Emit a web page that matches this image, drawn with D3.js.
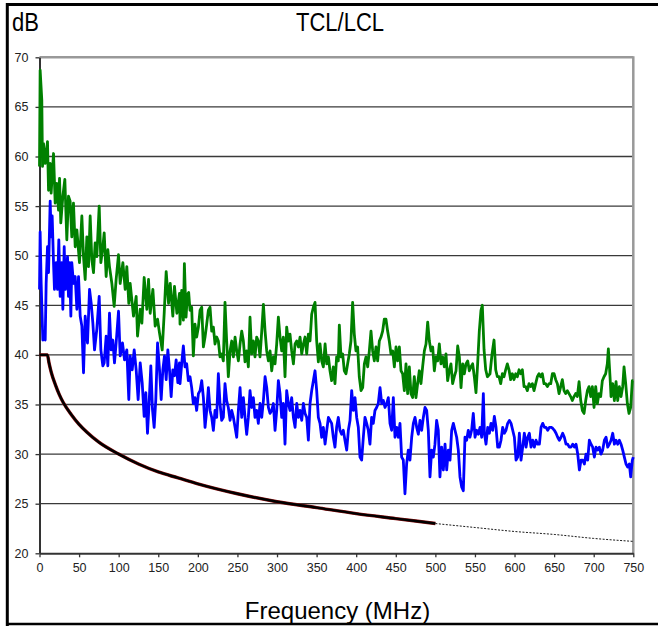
<!DOCTYPE html>
<html>
<head>
<meta charset="utf-8">
<script src="https://cdn.jsdelivr.net/npm/d3@7"></script>
<style>
  body { margin: 0; background: #fff; }
  text { font-family: "Liberation Sans", Arial, sans-serif; }
</style>
</head>
<body>
<div id="chart"></div>
<script>
// tick values
const yTicks = [20, 25, 30, 35, 40, 45, 50, 55, 60, 65, 70];
const xTicks = [0, 50, 100, 150, 200, 250, 300, 350, 400, 450, 500, 550, 600, 650, 700, 750];

// green trace [MHz, dB]
const greenTrace = [
  [0,59.0],[0.8,68.7],[2.9,65.7],[3.8,59.0],[5.1,61.3],[7.2,59.3],[10.1,61.5],[11.4,56.6],[13.5,59.3],[14.7,56.3],
  [17.7,60.3],[19.8,55.3],[21.9,57.3],[24,54.6],[25.3,57.8],[26.9,53.3],[29.5,56],[32,57.7],[34.5,51.6],[36.6,56],
  [38.7,55.5],[40.8,51.9],[42.9,55.3],[45.1,50.9],[47.2,52.6],[50.5,49.3],[53.5,54],[55.6,49.9],[57.7,47.6],[59.8,51.9],
  [61.9,48.9],[64,54],[66.1,49.6],[68.2,48.3],[70.3,51.3],[72.4,49.9],[75.4,55],[77.5,49.3],[80,50.9],[81.7,52.3],
  [84.2,47.9],[86.3,50.6],[88.4,48.9],[91.4,47.2],[94.3,44.9],[96.8,47.6],[99.8,50.1],[101.9,47.2],[105.3,49.3],[108.2,46.6],
  [110.3,48.9],[112.8,45.2],[114.5,47.2],[118.7,43.9],[122.1,45.9],[123.8,41.9],[127.2,44.6],[129.3,43.2],[132.2,47.8],[135.6,44.6],
  [137.7,47.6],[139.8,44.2],[143.2,46.6],[146.1,42.9],[149.1,43.6],[151.6,42.2],[155,40.5],[157.5,44.2],[160,48.4],[163,45.2],
  [165.1,47.2],[168.4,43.9],[170.5,46.9],[173.5,44.2],[176.8,46.2],
  [177.5,43.1],[179.6,46.5],[181.7,43.5],[183,49.2],[185.1,43.8],[186.8,46.1],[188.4,46.3],[190.1,44.5],[192.2,44.8],[194.3,39.9],
  [196.4,43.1],[198.5,41.8],[200.7,42.8],[202.8,44.5],[204.9,44.8],[207,40.8],[209.1,41.8],[211.2,43.1],[213.3,44.5],[215.4,44.8],
  [217.5,42.4],[219.6,42.8],[221.7,41.1],[223.8,41.8],[225.9,41.4],[228,39.8],[230.1,40.1],[232.2,39.4],[234.3,45.3],[236.4,41.4],
  [238.5,37.8],[240.7,40.4],[242.8,41.4],[244.9,39.8],[247,41.8],[249.1,40.4],[251.2,39.4],[253.3,41.1],[255.4,42.4],[257.5,41.4],
  [259.6,39.3],[261.7,40.4],[263.8,38.8],[265.9,43.8],[268,40.1],[270.1,41.4],[272.2,39.8],[274.3,41.8],[276.4,41.4],[278.5,39.8],
  [280.7,42.4],[282.8,45.1],[284.9,42.4],[287,40.4],[289.1,39.4],[291.2,40.4],[293.3,38.4],[295.4,39.8],[297.5,39.1],[299.6,41.1],
  [301.7,43.8],[303.8,41.8],[305.9,40.4],[308,41.8],[310.1,37.8],[312.2,42.8],[314.3,41.4],[316.4,42.1],[318.5,40.4],[320.7,39.1],
  [322.8,41.1],[324.9,41.4],[327,40.8],[329.1,41.8],[331.2,40.1],[333.3,41.1],[335.4,41.8],[337.5,40.1],[339.6,42.1],[341.7,41.4],
  [343.8,44.1],[345.9,44.8],[348,45.3],[350.1,41.4],[352.2,39.3],[354.3,41.1],[356.4,39.4],[358.5,38.8],[360.7,41.1],[362.8,39.1],
  [364.9,39.8],[366.9,38.4],[369,37.4],[371.1,38.8],[373.2,37.1],[375.3,39.8],[377.4,39.4],[378.7,43],[380.8,39.8],[382.9,40.1],
  [385,38.4],[387.1,38.1],[389.2,39.1],[391.3,40.1],[393.4,41.4],[395.5,45.3],[397.6,42.1],[399.7,40.4],[401.8,40.8],[403.9,37.8],
  [406.1,36.4],[408.2,36.7],[410.3,39.1],[412.4,39.8],[414.5,38.8],[416.6,40.4],[418.7,42.4],[420.8,40.4],[422.9,39.4],[425,40.8],
  [427.1,39.4],[429.2,41.4],[431.3,41.8],[433.4,42.4],[435.5,43.6],[437.6,43.6],[439.7,42.4],[441.8,41.4],[443.9,40.1],[446.1,40.4],
  [448.2,38.8],[450.3,40.8],[452.4,39.4],[454.5,40.8],[456.6,38.4],[458.7,38.1],[460.8,36.4],[462.9,39.1],[465,36.1],[467.1,38.8],
  [469.2,36.1],[471.3,35.7],[473.4,37.8],[475.5,35.7],[477.6,37.1],[479.7,38.4],[481.8,37.1],[483.9,38.8],[486.1,40.4],[488.2,41.1],
  [490.3,43.3],[492.4,41.4],[494.5,40.4],[496.6,40.8],[498.7,38.4],[500.8,39.8],[502.9,39.4],[505,41.1],[507.1,39.1],[509.2,39.8],
  [511.3,38.8],[513.4,40.1],[515.5,37.4],[517.6,38.4],[519.7,39.1],[521.8,37.1],[523.9,37.8],[526.1,38.4],[528.2,40.9],[530.3,39.8],
  [532.4,36.7],[534.5,39.1],[536.6,38.1],[538.7,39.1],[540.8,39.4],[542.9,38.4],[545,38.8],[547.1,39.1],[549.2,37.8],[551.3,36.2],
  [553.4,39.1],[555.5,42.4],[557.6,44.5],[559.3,45.0],[561.5,40.5],[563.6,38.5],[565.7,37.8],[569,38.1],[571.6,40.1],[574.1,41.5],
  [576.2,38.5],[578.3,37.8],[580.4,37.8],[582.5,37.1],[584.6,38.1],[586.7,37.8],[588.8,38.5],[590.9,39.1],[593,38.5],[595.1,37.5],
  [597.2,38.1],[599.3,37.5],[601.5,38.1],[603.6,37.8],[605.7,38.5],[607.8,38.1],[609.9,38.5],[612,36.8],[614.1,36.8],[616.2,36.4],
  [618.3,37.1],[620.4,36.8],[622.5,37.1],[624.6,36.4],[626.7,37.1],[628.8,37.8],[630.9,38.1],[633,37.8],[635.1,38.1],[637.2,37.1],
  [639.3,37.1],[641.5,36.8],[643.6,37.1],[645.7,37.1],[647.8,38.1],[649.9,38.1],[652,37.5],[654.1,37.1],[656.2,36.1],[658.3,36.8],
  [660.4,37.5],[662.5,36.4],[664.6,36.1],[666.7,36.4],[668.8,36.1],[670.9,35.8],[673,35.4],[675.1,35.8],[677.2,36.1],[679.3,35.8],
  [681.5,37.3],[683.6,35.4],[685.7,34.4],[687.8,34.1],[689.9,35.4],[692,36.4],[694.1,36.8],[696.2,35.8],[698.3,36.8],[700.4,34.7],
  [702.5,36.8],[704.6,35.1],[706.7,36.1],[708.8,35.8],[710.9,37.4],[713,37.8],[715.1,38.1],[717.2,39.1],[718.5,40.6],[720.6,37.8],
  [721.9,35.8],[724,37.1],[726.1,35.4],[728.2,37.3],[730.3,35.4],[732.4,36.8],[734.5,35.8],[736.6,36.8],[738.3,38.8],[740.4,37.1],
  [742.5,35.1],[744.6,34.1],[746.7,34.7],[748.8,37.4],[750,37.4]
];

// blue trace [MHz, dB]
const blueTrace = [
  [0,46.6],[0.8,52.4],[2.1,47.2],[4.2,41.5],[5.9,41.9],[7.2,41.5],[8.4,47.2],[10.1,50.9],[11.4,48.3],[13.5,55.5],
  [14.7,51.9],[16,54],[17.7,49.3],[18.9,46.6],[21.1,49.3],[22.7,46.6],[24.4,51.6],[26.1,45.9],[28.2,49.3],[29.5,44.6],
  [31.2,50.9],[32.8,46.6],[35.4,49.9],[36.6,45.9],[37.9,49.3],[39.6,43.9],[40.8,49.3],[42.9,47.2],[45.1,47.9],[47.2,44.6],
  [49.3,47.9],[51.4,43.9],[53.5,42.9],[55.6,38.2],[57.7,43.9],[60.6,41.2],[63.2,46.6],[65.3,45.2],[67.4,43.2],[69.5,40.5],
  [72.4,42.6],[75.4,45.9],[77.5,40.5],[80,38.9],[81.7,39.2],[84.2,41.9],[86.3,38.9],[88.4,44.2],[90.5,40.5],[92.6,41.5],
  [94.7,39.2],[96.8,41.2],[99.8,44.4],[101.9,39.9],[104.8,41.2],[107.4,39.5],[110.3,40.5],[112.8,35.5],[114.5,39.9],[117.1,38.5],
  [119.6,40.5],[122.1,38.5],[124.6,35.5],[127.2,39.2],[129.7,37.2],[132.2,33.8],[134.3,36.2],[136.4,32.1],[138.5,35.2],[140.6,38.9],
  [142.7,34.5],[144.8,32.7],[146.9,35.5],[149.1,41.2],[151.6,38.5],[153.7,35.5],[155.8,38.5],[157.9,39.9],[160,37.5],[162.1,40.5],
  [164.2,38.5],[166.3,35.8],[168.4,38.5],[170.5,37.9],[172.6,39.5],[174.7,37.2],[176.8,39.2],
  [177.5,37.1],[179.6,39.1],[181.7,40.9],[183.8,38.8],[185.9,39.1],[188,37.4],[190.1,37.8],[192.2,36.7],[194.3,35.1],[196.4,35.7],
  [198.5,34.4],[200.7,36.1],[202.8,36.4],[204.9,37.4],[207,35.7],[209.1,32.7],[211.2,34.4],[213.3,36.7],[215.4,34.4],[217.5,33.7],
  [219.6,32.4],[221.7,34.4],[223.8,33.7],[225.9,38.1],[228,35.1],[230.1,33.4],[232.2,33.7],[234.3,37.1],[236.4,35.4],[238.5,34.7],
  [240.7,33.4],[242.8,34.4],[244.9,33.7],[247,32.7],[249.1,31.7],[251.2,34.4],[253.3,36.7],[255.4,33.7],[257.5,35.7],[259.6,33.7],
  [261.7,32.0],[263.8,33.7],[265.9,36.4],[268,34.7],[270.1,35.7],[272.2,33.7],[274.3,34.4],[276.4,33.1],[278.5,35.1],[280.7,33.7],
  [282.8,35.4],[284.9,37.8],[287,36.7],[289.1,34.7],[291.2,34.1],[293.3,34.4],[295.4,35.1],[297.5,32.4],[299.6,34.4],[301.7,37.4],
  [303.8,36.1],[305.9,33.7],[308,35.1],[310.1,31.0],[312.2,36.4],[314.3,35.1],[316.4,34.4],[318.5,35.7],[320.7,33.7],[322.8,32.7],
  [324.9,35.1],[327,33.7],[329.1,34.4],[331.2,33.4],[333.3,35.1],[335.4,34.1],[337.5,33.7],[339.6,31.4],[341.7,35.1],[343.8,36.4],
  [345.9,37.4],[348,38.4],[350.1,36.4],[352.2,33.7],[354.3,33.1],[356.4,31.7],[358.5,32.7],[360.7,31.0],[362.8,32.4],[364.9,33.7],
  [366.9,33.4],[369,33.1],[371.1,31.7],[373.2,30.7],[375.3,32.7],[377.4,33.7],[379.5,32.4],[381.6,32.0],[383.7,32.4],[385.8,31.4],
  [388,30.4],[390.1,32.4],[392.2,33.4],[394.3,36.4],[396.4,34.4],[398.5,35.7],[400.6,33.7],[402.7,32.7],[404.8,29.7],[406.9,29.4],
  [409,31.7],[411.1,33.7],[413.2,33.1],[415.3,32.4],[417.4,31.0],[419.5,33.7],[421.6,33.1],[423.7,34.4],[425.8,34.7],[427.9,35.1],
  [430.1,36.7],[432.2,35.1],[434.3,35.4],[436.4,34.7],[438.5,35.1],[440.6,35.7],[442.7,33.1],[444.8,32.4],[446.9,35.7],[449,31.7],
  [451.1,32.7],[453.2,31.7],[455.3,33.1],[457.4,29.7],[459.5,29.4],[461.6,26.0],[463.7,29.0],[465.8,30.4],[467.9,29.4],[470.1,31.7],
  [472.2,33.1],[474.3,33.7],[476.4,32.7],[478.5,32.0],[480.6,33.4],[482.7,32.4],[484.8,33.7],[486.9,34.7],[489,34.4],[491.1,32.4],
  [493.2,27.7],[495.3,30.4],[497.4,29.7],[499.5,31.0],[501.6,33.4],[503.7,32.4],[505.8,27.7],[507.9,30.7],[510.1,28.4],[512.2,31.0],
  [514.3,28.4],[516.4,30.4],[518.5,29.4],[520.6,32.4],[522.7,33.1],[524.8,32.4],[526.9,31.7],[529,30.4],[531.1,27.7],[533.2,26.7],
  [535.3,26.3],[537.4,31.7],[539.5,31.4],[541.6,32.4],[543.7,31.7],[545.8,32.4],[547.9,34.1],[550.1,31.7],[552.2,32.4],[554.3,32.0],
  [556.4,32.7],[558.5,31.7],[560.6,36.1],[561.9,32.1],[564,31.0],[566.1,32.7],[568.2,32.1],[570.3,33.1],[572.4,32.4],[574.5,33.8],
  [576.6,32.7],[578.7,30.7],[580.8,30.7],[582.9,31.4],[585,32.7],[587.1,32.1],[589.2,32.4],[591.3,33.1],[593.5,33.4],[595.6,33.1],
  [597.7,32.4],[599.8,31.7],[601.9,29.4],[604,29.7],[606.1,32.1],[608.2,29.4],[610.3,30.7],[612.4,32.1],[614.5,30.7],[616.6,31.7],
  [618.7,32.1],[620.8,30.7],[622.9,31.4],[625,30.7],[627.1,31.4],[629.2,31.0],[631.4,31.0],[633.5,32.7],[635.6,33.1],[637.7,32.7],
  [639.8,32.7],[641.9,32.4],[644,32.7],[646.1,32.7],[648.2,32.6],[650.3,32.4],[652.4,32.1],[654.5,31.7],[656.6,31.4],[658.7,31.7],
  [660.8,32.1],[662.9,31.7],[665,31.0],[667.1,31.0],[669.2,30.7],[671.3,30.7],[673.5,31.0],[675.6,30.7],[677.7,31.0],[679.8,30.0],
  [681.9,28.4],[684,29.4],[686.1,29.4],[688.2,29.0],[690.3,30.0],[692.4,29.4],[694.5,31.4],[696.6,31.0],[698.7,30.7],[700.8,29.7],
  [702.9,30.7],[705,30.4],[707.1,30.7],[709.2,30.0],[711.3,30.4],[713.5,31.4],[715.6,31.7],[717.7,30.7],[719.8,31.0],[721.9,31.4],
  [724,32.1],[726.1,31.0],[728.2,31.4],[730.3,31.0],[732.4,31.4],[734.5,31.0],[736.6,30.4],[738.7,29.7],[740.8,29.0],[742.9,28.7],
  [745,29.0],[746.7,27.7],[748.8,29.4],[750,29.7]
];

// limit line, solid part and dotted extension [MHz, dB]
const limitSolid = [
  [0,40],[10,40],[12,39.2],[15,38.2],[20,37],[25,36],[30,35.2],[40,34],[50,33],[60,32.2],[75,31.2],
  [100,30],[125,29],[150,28.2],[175,27.6],[200,27],[250,26],[300,25.2],[350,24.6],[400,24],[450,23.5],[500,23]
];
const limitDotted = [[500,23],[550,22.6],[600,22.2],[650,21.9],[700,21.5],[750,21.2]];

const W = 658, H = 626;
const plot = { left: 39.5, right: 633.3, top: 57.3, bottom: 553.3 };

const svg = d3.select('#chart').append('svg')
  .attr('width', W).attr('height', H);

const x = d3.scaleLinear().domain([0, 750]).range([plot.left, plot.right]);
const y = d3.scaleLinear().domain([20, 70]).range([plot.bottom, plot.top]);

// horizontal grid
svg.append('g').selectAll('line')
  .data(yTicks.filter(d => d > 20))
  .enter().append('line')
  .attr('x1', plot.left).attr('x2', plot.right)
  .attr('y1', d => y(d)).attr('y2', d => y(d))
  .attr('stroke', d => d === 70 ? '#999' : '#3a3a3a')
  .attr('stroke-width', d => d === 70 ? 2.5 : 1.3);

// right border of plot
svg.append('line')
  .attr('x1', plot.right).attr('x2', plot.right)
  .attr('y1', plot.top - 1).attr('y2', plot.bottom)
  .attr('stroke', '#999').attr('stroke-width', 2.5);

// axes
const yAxis = d3.axisLeft(y).tickValues(yTicks).tickSize(4).tickPadding(7).tickSizeOuter(0);
const xAxis = d3.axisBottom(x).tickValues(xTicks).tickSize(4).tickPadding(6).tickSizeOuter(0);

const gy = svg.append('g').attr('transform', 'translate(' + plot.left + ',0)').call(yAxis);
const gx = svg.append('g').attr('transform', 'translate(0,' + plot.bottom + ')').call(xAxis);

[gy, gx].forEach(function (g) {
  g.select('.domain').attr('stroke', '#333').attr('stroke-width', 2);
  g.selectAll('.tick line').attr('stroke', '#333').attr('stroke-width', 1.3);
  g.selectAll('.tick text')
    .attr('fill', '#222')
    .style('font-family', '"Liberation Sans", Arial, sans-serif')
    .style('font-size', '12.5px');
});

const line = d3.line().x(d => x(d[0])).y(d => y(d[1]));

svg.append('path').datum(greenTrace)
  .attr('d', line).attr('fill', 'none')
  .attr('stroke', '#008000').attr('stroke-width', 2.8)
  .attr('stroke-linejoin', 'round');

svg.append('path').datum(blueTrace)
  .attr('d', line).attr('fill', 'none')
  .attr('stroke', '#0000ff').attr('stroke-width', 2.8)
  .attr('stroke-linejoin', 'round');

const smooth = d3.line().curve(d3.curveMonotoneX).x(d => x(d[0])).y(d => y(d[1]));

svg.append('path').datum(limitDotted)
  .attr('d', smooth).attr('fill', 'none')
  .attr('stroke', '#000').attr('stroke-width', 0.9)
  .attr('stroke-dasharray', '2,1.5');

svg.append('path').datum(limitSolid)
  .attr('d', smooth).attr('fill', 'none')
  .attr('stroke', '#8b1010').attr('stroke-width', 3.4);

svg.append('path').datum(limitSolid)
  .attr('d', smooth).attr('fill', 'none')
  .attr('stroke', '#000').attr('stroke-width', 2.4);

// texts
svg.append('text')
  .attr('transform', 'translate(340,31) scale(0.88,1)')
  .attr('text-anchor', 'middle')
  .style('font-size', '25px')
  .text('TCL/LCL');

svg.append('text')
  .attr('transform', 'translate(12,31) scale(0.88,1)')
  .style('font-size', '25px')
  .text('dB');

svg.append('text')
  .attr('x', 337.5).attr('y', 619)
  .attr('text-anchor', 'middle')
  .style('font-size', '24px')
  .text('Frequency (MHz)');

// outer frame (left, top, bottom)
svg.append('path')
  .attr('d', 'M7.3,' + H + ' L7.3,4.5 L' + W + ',4.5')
  .attr('fill', 'none').attr('stroke', '#000').attr('stroke-width', 3);
svg.append('line')
  .attr('x1', 6).attr('x2', W).attr('y1', 624).attr('y2', 624)
  .attr('stroke', '#000').attr('stroke-width', 2.5);
</script>
</body>
</html>
